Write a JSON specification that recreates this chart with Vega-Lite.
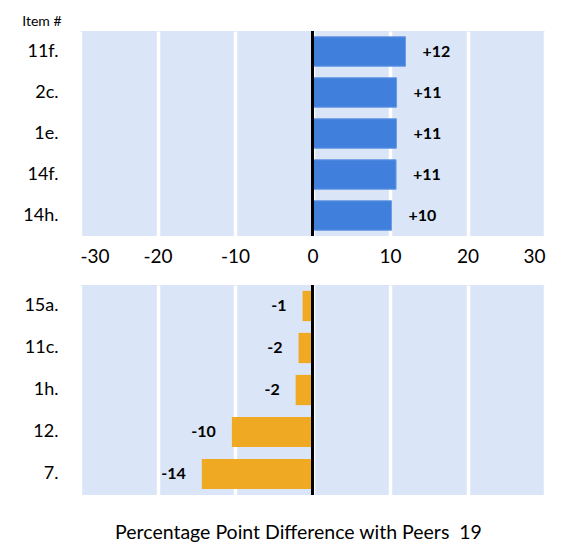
{
  "$schema": "https://vega.github.io/schema/vega-lite/v6.json",
  "padding": {"left": 21, "top": 14, "right": 20, "bottom": 5},
  "background": "white",
  "bounds": "flush",
  "spacing": 49,
  "config": {
    "font": "Lato",
    "view": {"fill": "#DAE5F7", "stroke": null},
    "axis": {"labelFont": "Lato", "titleFont": "Lato", "labelColor": "#000000", "titleColor": "#000000", "domain": false, "ticks": false}
  },
  "datasets": {
    "pos": [
      {"item": "11f.", "diff": 12.0, "label": "+12"},
      {"item": "2c.", "diff": 10.85, "label": "+11"},
      {"item": "1e.", "diff": 10.83, "label": "+11"},
      {"item": "14f.", "diff": 10.78, "label": "+11"},
      {"item": "14h.", "diff": 10.2, "label": "+10"}
    ],
    "neg": [
      {"item": "15a.", "diff": -1.28, "label": "-1"},
      {"item": "11c.", "diff": -1.8, "label": "-2"},
      {"item": "1h.", "diff": -2.17, "label": "-2"},
      {"item": "12.", "diff": -10.4, "label": "-10"},
      {"item": "7.", "diff": -14.28, "label": "-14"}
    ],
    "zero": [{"zero": 0}]
  },
  "vconcat": [
    {
      "width": 465,
      "height": 205,
      "layer": [
        {
          "data": {"name": "pos"},
          "mark": {"type": "bar", "color": "#4080DC", "stroke": "#6A9BE3", "strokeWidth": 1},
          "encoding": {
            "y": {"field": "item", "type": "nominal", "sort": null,
                  "scale": {"paddingInner": 0.28, "paddingOuter": 0.14},
                  "axis": {"title": "Item #", "titleAngle": 0, "titleFontSize": 14, "titleFontWeight": "normal", "titleAlign": "right", "titleBaseline": "middle", "titleX": -19, "titleY": -10, "labelFontSize": 18, "labelPadding": 22}},
            "x": {"field": "diff", "type": "quantitative",
                  "scale": {"domain": [-30, 30], "nice": false},
                  "axis": {"title": null, "values": [-30, -20, -10, 0, 10, 20, 30], "labelExpr": "'' + datum.value", "labelFontSize": 19, "labelPadding": 20, "labelBaseline": "middle", "gridColor": "#FFFFFF", "gridWidth": 3.5, "gridOpacity": 1}}
          }
        },
        {
          "data": {"name": "pos"},
          "mark": {"type": "text", "align": "left", "baseline": "middle", "dx": 17, "fontWeight": "bold", "fontSize": 16, "color": "#000000"},
          "encoding": {
            "y": {"field": "item", "type": "nominal", "sort": null},
            "x": {"field": "diff", "type": "quantitative"},
            "text": {"field": "label"}
          }
        },
        {
          "data": {"name": "zero"},
          "mark": {"type": "rule", "color": "#000000", "strokeWidth": 3},
          "encoding": {"x": {"field": "zero", "type": "quantitative"}}
        }
      ]
    },
    {
      "width": 465,
      "height": 210,
      "layer": [
        {
          "data": {"name": "neg"},
          "mark": {"type": "bar", "color": "#EFA922"},
          "encoding": {
            "y": {"field": "item", "type": "nominal", "sort": null,
                  "scale": {"paddingInner": 0.28, "paddingOuter": 0.14},
                  "axis": {"title": null, "labelFontSize": 18, "labelPadding": 22}},
            "x": {"field": "diff", "type": "quantitative",
                  "scale": {"domain": [-30, 30], "nice": false},
                  "axis": {"title": "Percentage Point Difference with Peers\u00a0\u00a019", "titleFontSize": 19.5, "titleFontWeight": "normal", "titleX": 218, "titleY": 43.5, "titleAlign": "center", "titleBaseline": "alphabetic", "labels": false, "values": [-30, -20, -10, 0, 10, 20, 30], "gridColor": "#FFFFFF", "gridWidth": 3.5, "gridOpacity": 1}}
          }
        },
        {
          "data": {"name": "neg"},
          "mark": {"type": "text", "align": "right", "baseline": "middle", "dx": -16, "fontWeight": "bold", "fontSize": 16, "color": "#000000"},
          "encoding": {
            "y": {"field": "item", "type": "nominal", "sort": null},
            "x": {"field": "diff", "type": "quantitative"},
            "text": {"field": "label"}
          }
        },
        {
          "data": {"name": "zero"},
          "mark": {"type": "rule", "color": "#000000", "strokeWidth": 3},
          "encoding": {"x": {"field": "zero", "type": "quantitative"}}
        }
      ]
    }
  ]
}
